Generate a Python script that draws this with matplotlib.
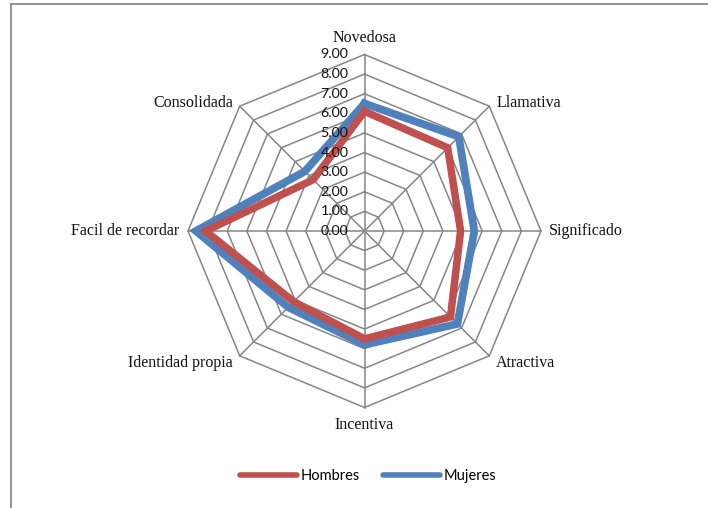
import numpy as np
import matplotlib
matplotlib.use("Agg")
import matplotlib.pyplot as plt
from matplotlib.lines import Line2D

categories = ["Novedosa", "Llamativa", "Significado", "Atractiva", "Incentiva",
              "Identidad propia", "Facil de recordar", "Consolidada"]
hombres = [6.1, 6.0, 4.9, 6.2, 5.5, 5.1, 8.1, 3.7]
mujeres = [6.5, 6.8, 5.6, 6.7, 5.8, 5.5, 8.6, 4.3]
tick_values = [0, 1, 2, 3, 4, 5, 6, 7, 8, 9]
tick_labels = ["0.00", "1.00", "2.00", "3.00", "4.00", "5.00", "6.00", "7.00", "8.00", "9.00"]

W, H = 708, 508
fig = plt.figure(figsize=(W / 100, H / 100), dpi=100)
ax = fig.add_axes([0, 0, 1, 1])
ax.set_axis_off()

cx, cy, R = 364.5, 231.0, 176.5  # pixel center and radius of max ring
rmax = tick_values[-1]
ppu = R / rmax
ax.set_xlim(-cx / ppu, (W - cx) / ppu)
ax.set_ylim(-(H - cy) / ppu, cy / ppu)
ax.set_aspect("equal")

n = len(categories)
ang = np.pi / 2 - np.arange(n) * 2 * np.pi / n
ux, uy = np.cos(ang), np.sin(ang)

grid_c = "#868686"
# rings
for t in tick_values[1:]:
    ax.plot(np.append(ux, ux[0]) * t, np.append(uy, uy[0]) * t, color=grid_c, lw=1.1, zorder=1)
# spokes
for i in range(n):
    ax.plot([0, ux[i] * rmax], [0, uy[i] * rmax], color=grid_c, lw=1.1, zorder=1)

# series
def closed(vals):
    v = np.array(vals + vals[:1])
    return np.append(ux, ux[0]) * v, np.append(uy, uy[0]) * v

bx, by = closed(mujeres)
ax.plot(bx, by, color="#4F81BD", lw=5.6, solid_joinstyle="miter", zorder=3)
rx, ry = closed(hombres)
ax.plot(rx, ry, color="#C0504D", lw=5.4, solid_joinstyle="miter", zorder=4)

# radial tick labels
for t, lab in zip(tick_values, tick_labels):
    ax.annotate(lab, (0, t), xytext=(-11.5, 0), textcoords="offset points",
                ha="right", va="center", fontsize=10.3, family="Lato", color="#111111", zorder=5)

# category labels
offs = [(0, 12, "center", "center"), (5, 2.5, "left", "center"), (6, 0, "left", "center"),
        (5, -5, "left", "center"), (0, -12.5, "center", "center"), (-5, -5, "right", "center"),
        (-6, 0, "right", "center"), (-5, 2.5, "right", "center")]
for i, lab in enumerate(categories):
    dx, dy, ha, va = offs[i]
    ax.annotate(lab, (ux[i] * rmax, uy[i] * rmax), xytext=(dx, dy), textcoords="offset points",
                ha=ha, va=va, fontsize=11.5, family="Liberation Serif", color="#111111")

# legend
handles = [Line2D([0], [0], color="#C0504D", lw=4, solid_capstyle="round"),
           Line2D([0], [0], color="#4F81BD", lw=4, solid_capstyle="round")]
fig.legend(handles, ["Hombres", "Mujeres"], loc="center", bbox_to_anchor=(368 / W, 1 - 476 / H),
           ncol=2, frameon=False, prop={"family": "Lato", "size": 10.5},
           handlelength=3.9, handletextpad=0.25, columnspacing=1.6)

# frame
fig.add_artist(Line2D([10.5 / W, 10.5 / W], [0, 1 - 4 / H], color="#8a8a8a", lw=1.3))
fig.add_artist(Line2D([10.5 / W, 1], [1 - 4 / H, 1 - 4 / H], color="#8a8a8a", lw=1.3))

fig.savefig("out.png", dpi=100)
